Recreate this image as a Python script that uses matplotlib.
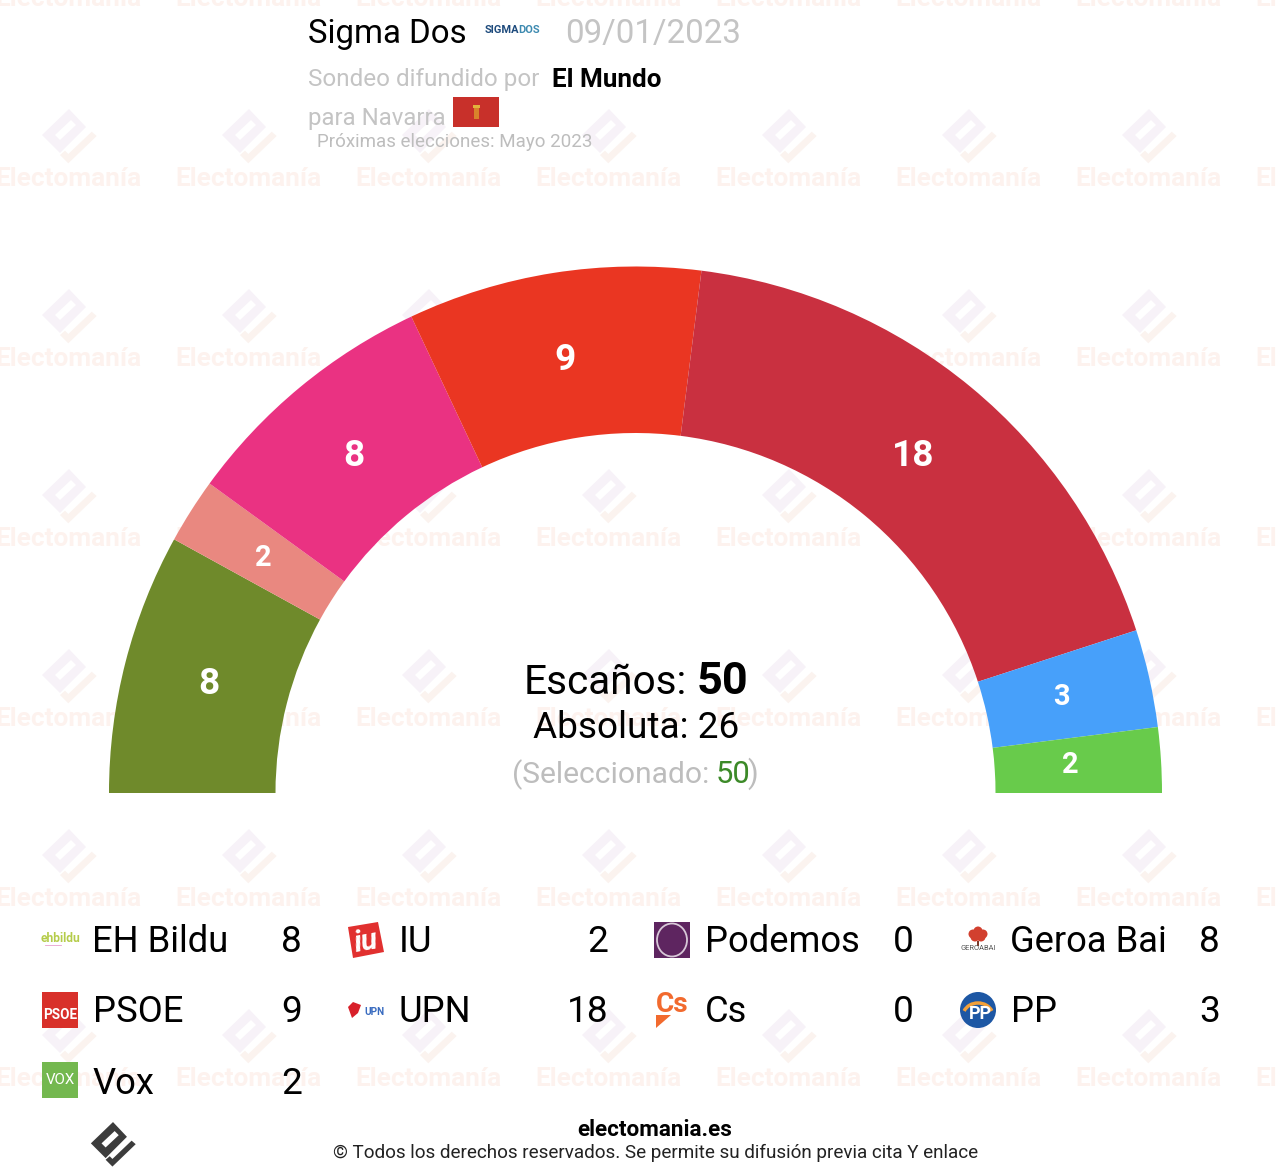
import numpy as np
import matplotlib
matplotlib.use('Agg')
import matplotlib.pyplot as plt
from matplotlib.patches import Wedge, Rectangle, Polygon, Circle, Ellipse, Arc

plt.rcParams['font.family'] = ['Roboto', 'DejaVu Sans']

# daten
parties = ['EH Bildu', 'IU', 'Podemos', 'Geroa Bai', 'PSOE', 'UPN', 'Cs', 'PP', 'Vox']
seats = [8, 2, 0, 8, 9, 18, 0, 3, 2]
colors = ['#6f8a2b', '#e98880', '#5e2560', '#ea3282', '#ea3622', '#c93040', '#f26a2e', '#47a0fa', '#68cb4b']
total_seats = 50
majority = 26

WIDTH, HEIGHT = 1276, 1176
CX, CY = 635.5, 793
R_OUT, R_IN = 526.5, 360

DIAMOND = [(0, -28), (17, -10), (-9, 16), (-27, -2)]
SLOT = [(-14, -2), (2, -17), (7, -12), (-9, 3)]
CHECK = [(22.7, -5.3), (27.7, -1), (-0.7, 26.3), (-9, 18), (-4, 13.7), (-0.7, 17)]


def px(size):
    return size * 0.72


fig = plt.figure(figsize=(WIDTH / 100, HEIGHT / 100), dpi=100)
ax = fig.add_axes([0, 0, 1, 1])
ax.set_xlim(0, WIDTH)
ax.set_ylim(HEIGHT, 0)
ax.axis('off')


def label(x, y, s, size, color='black', weight='normal', ha='left', **kw):
    return ax.text(x, y, s, fontsize=px(size), color=color, fontweight=weight,
                   ha=ha, va='baseline', clip_on=True, **kw)


def mark(cx, cy, scale, c1, c2, slot_color='white', z=1):
    pts = lambda p: [(cx + a * scale, cy + b * scale) for a, b in p]
    ax.add_patch(Polygon(pts(DIAMOND), fc=c1, ec='none', zorder=z))
    ax.add_patch(Polygon(pts(SLOT), fc=slot_color, ec='none', zorder=z))
    ax.add_patch(Polygon(pts(CHECK), fc=c2, ec='none', zorder=z))


# wasserzeichen
for j in range(-1, 6):
    for i in range(0, 8):
        x = 69 + 180 * i
        y = 137 + 180 * j
        mark(x, y, 1, '#f7f2f8', '#fbf3ef')
        label(x - 0.5, y + 49, 'Electomanía', 26.2, color='#fdf2ee', weight='bold', ha='center', zorder=1)

# halbkreis
cum = 0
for party, n, col in zip(parties, seats, colors):
    if n > 0:
        t1 = 180 + cum / total_seats * 180
        t2 = 180 + (cum + n) / total_seats * 180
        ax.add_patch(Wedge((CX, CY), R_OUT, t1, t2, width=R_OUT - R_IN, fc=col, ec='none', zorder=2))
        mid = np.radians((t1 + t2) / 2)
        ax.text(CX - 2 + 438 * np.cos(mid), CY + 438 * np.sin(mid), str(n), color='white', fontweight='bold',
                fontsize=px(37 if n > 3 else 29), ha='center', va='center', zorder=3)
    cum += n

# kopf
label(308, 43, 'Sigma Dos', 33)
label(485, 33, 'SIGMA', 11, color='#1d4a7c', weight='bold')
label(518, 33, 'DOS', 11, color='#3d8ab0', weight='bold')
label(565.5, 43, '09/01/2023', 33, color='#c4c4c4')
label(308, 86, 'Sondeo difundido por', 24.2, color='#c4c4c4')
label(552, 87, 'El Mundo', 26, weight='bold')
label(308, 125, 'para Navarra', 24, color='#c4c4c4')
ax.add_patch(Rectangle((453, 97), 46, 30, fc='#c8302a', ec='none', zorder=3))
ax.add_patch(Rectangle((473.5, 108), 5, 11, fc='#d9822b', ec='none', zorder=4))
ax.add_patch(Rectangle((472.5, 105), 7, 3, fc='#e2b33c', ec='none', zorder=4))
label(317, 147, 'Próximas elecciones: Mayo 2023', 18.8, color='#bdbdbd', zorder=4)

# mitte
label(524, 694, 'Escaños:', 40.5, zorder=4)
label(697, 694, str(total_seats), 45, weight='bold', zorder=4)
label(636, 738, f'Absoluta: {majority}', 37, ha='center', zorder=4)
label(512, 783, '(Seleccionado:', 30, color='#bdbdbd', zorder=4)
label(715.5, 783, str(total_seats), 31, color='#3c8a28', zorder=4)
label(747.5, 783, ')', 31, color='#bdbdbd', zorder=4)


# logos
def logo(party, x, y):
    if party == 'EH Bildu':
        ax.text(x + 18, y - 1, 'ehbildu', fontsize=px(12), color='#b5cc4a', fontweight='bold',
                ha='center', va='center', zorder=4)
        ax.plot([x + 3, x + 19], [y + 5, y + 5], color='#e8a0d0', lw=0.6, zorder=4)
    elif party == 'IU':
        ax.add_patch(Polygon([(x, y - 13), (x + 30, y - 18), (x + 36, y + 12), (x + 5, y + 18)],
                             fc='#e1302f', ec='none', zorder=4))
        ax.text(x + 18, y + 2, 'iu', fontsize=px(30), color='white', fontweight='bold', style='italic',
                ha='center', va='center', rotation=10, zorder=5)
    elif party == 'Podemos':
        ax.add_patch(Rectangle((x, y - 18), 36, 36, fc='#5e2560', ec='none', zorder=4))
        ax.add_patch(Ellipse((x + 18, y), 30, 33, fc='none', ec='#d8c8d8', lw=1.3, zorder=5))
    elif party == 'Geroa Bai':
        for dx, dy in [(-5, -6), (5, -6), (0, -9), (-3, -3), (3, -3)]:
            ax.add_patch(Circle((x + 18 + dx, y + dy), 4.5, fc='#d2402f', ec='none', zorder=4))
        ax.add_patch(Rectangle((x + 17, y + 1), 2, 5, fc='#7a3a2a', ec='none', zorder=4))
        ax.text(x + 18, y + 9, 'GEROABAI', fontsize=px(7.5), color='#555555', ha='center', va='center', zorder=4)
    elif party == 'PSOE':
        ax.add_patch(Rectangle((x, y - 18), 36, 36, fc='#d8302a', ec='none', zorder=4))
        ax.text(x + 18, y + 5, 'PSOE', fontsize=px(13.5), color='white', fontweight='bold',
                ha='center', va='center', zorder=5)
    elif party == 'UPN':
        ax.add_patch(Polygon([(x, y - 3), (x + 5, y - 8), (x + 13, y - 5), (x + 10, y + 3), (x + 4, y + 8)],
                             fc='#d8202a', ec='none', zorder=4))
        ax.text(x + 26, y + 2, 'UPN', fontsize=px(10), color='#3a6cc0', fontweight='bold',
                ha='center', va='center', zorder=4)
    elif party == 'Cs':
        ax.text(x + 2, y + 2, 'Cs', fontsize=px(28), color='#f26a2e', fontweight='bold',
                ha='left', va='baseline', zorder=4)
        ax.add_patch(Polygon([(x + 2, y + 5), (x + 17, y + 5), (x + 2, y + 18)], fc='#f26a2e', ec='none', zorder=4))
    elif party == 'PP':
        ax.add_patch(Circle((x + 18, y), 18, fc='#1d57a4', ec='none', zorder=4))
        ax.add_patch(Arc((x + 18, y + 6), 30, 26, theta1=200, theta2=340, ec='#f2a03a', lw=2.5, zorder=5))
        ax.text(x + 20, y + 4, 'PP', fontsize=px(18), color='white', fontweight='bold',
                ha='center', va='center', zorder=6)
    elif party == 'Vox':
        ax.add_patch(Rectangle((x, y - 18), 36, 36, fc='#74b84f', ec='none', zorder=4))
        ax.text(x + 18, y, 'VOX', fontsize=px(15), color='white', ha='center', va='center', zorder=5)


# legende
col_icon = [42, 348, 654, 960]
row_y = [940, 1010, 1080]
base_y = [952.5, 1022.5, 1093.5]
for k, (party, n) in enumerate(zip(parties, seats)):
    c = k % 4
    r = k // 4
    logo(party, col_icon[c], row_y[r])
    label(col_icon[c] + 50.5, base_y[r], party, 36.4, zorder=4)
    label(col_icon[c] + 260, base_y[r], str(n), 37, ha='right', zorder=4)

# fuss
mark(113, 1145, 0.82, '#3c3c3c', '#3c3c3c', z=4)
label(655, 1136, 'electomania.es', 22.5, weight='bold', ha='center', zorder=4)
label(655.5, 1158, '© Todos los derechos reservados. Se permite su difusión previa cita Y enlace', 18.9,
      color='#222222', ha='center', zorder=4)

fig.savefig('out.png', dpi=100)
